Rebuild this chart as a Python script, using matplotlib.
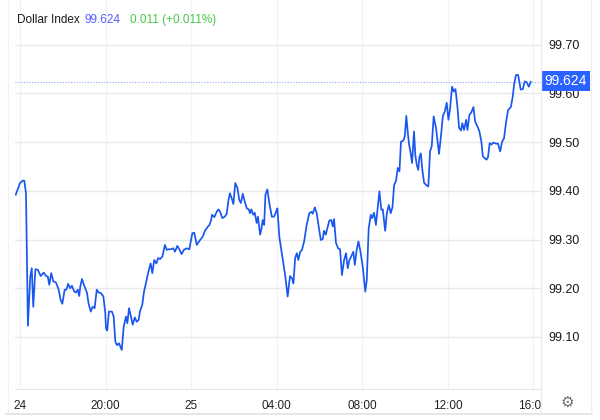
import numpy as np
import matplotlib.pyplot as plt
from matplotlib.patches import Rectangle
from matplotlib.lines import Line2D
from matplotlib.transforms import blended_transform_factory

plt.rcParams['font.family'] = ['Liberation Sans', 'DejaVu Sans']

# hours after 24th 16:00 and index value
hours = [-0.20, 0.00, 0.13, 0.20, 0.28, 0.37, 0.48, 0.55, 0.62, 0.72, 0.83, 0.97,
         1.11, 1.22, 1.30, 1.37, 1.46, 1.56, 1.68, 1.81, 1.90, 1.98, 2.09, 2.17,
         2.25, 2.34, 2.43, 2.53, 2.61, 2.70, 2.77, 2.82, 2.90, 2.99, 3.13, 3.21,
         3.31, 3.40, 3.49, 3.59, 3.68, 3.79, 3.90, 3.99, 4.02, 4.08, 4.16, 4.30,
         4.38, 4.46, 4.54, 4.63, 4.76, 4.85, 4.96, 5.02, 5.10, 5.19, 5.27, 5.37,
         5.46, 5.55, 5.61, 5.72, 5.80, 5.89, 5.99, 6.11, 6.19, 6.28, 6.38, 6.46,
         6.55, 6.66, 6.78, 6.86, 6.96, 7.06, 7.17, 7.25, 7.36, 7.45, 7.56, 7.67,
         7.80, 7.92, 8.06, 8.15, 8.27, 8.39, 8.55, 8.65, 8.76, 8.86, 8.94, 8.98,
         9.09, 9.20, 9.28, 9.36, 9.46, 9.58, 9.67, 9.75, 9.82, 9.90, 9.98, 10.07,
         10.17, 10.26, 10.33, 10.42, 10.51, 10.61, 10.70, 10.76, 10.82, 10.91, 10.98, 11.07,
         11.13, 11.23, 11.29, 11.35, 11.42, 11.48, 11.57, 11.66, 11.78, 11.88, 11.98, 12.04,
         12.13, 12.22, 12.32, 12.41, 12.52, 12.63, 12.73, 12.79, 12.87, 12.95, 13.02, 13.10,
         13.19, 13.29, 13.41, 13.53, 13.63, 13.69, 13.79, 13.88, 13.97, 14.07, 14.16, 14.22,
         14.30, 14.40, 14.47, 14.56, 14.63, 14.69, 14.78, 14.88, 14.97, 15.06, 15.16, 15.25,
         15.33, 15.41, 15.50, 15.59, 15.66, 15.75, 15.83, 15.91, 16.03, 16.15, 16.22, 16.31,
         16.41, 16.47, 16.56, 16.65, 16.81, 16.90, 16.97, 17.08, 17.16, 17.25, 17.34, 17.42,
         17.50, 17.59, 17.67, 17.75, 17.82, 17.93, 18.00, 18.07, 18.14, 18.20, 18.26, 18.34,
         18.43, 18.49, 18.56, 18.63, 18.68, 18.75, 18.82, 18.90, 18.99, 19.10, 19.18, 19.26,
         19.35, 19.46, 19.60, 19.68, 19.78, 19.87, 19.96, 20.04, 20.12, 20.21, 20.29, 20.37,
         20.46, 20.54, 20.63, 20.69, 20.77, 20.87, 20.93, 21.02, 21.11, 21.21, 21.29, 21.40,
         21.49, 21.58, 21.65, 21.74, 21.82, 21.89, 21.97, 22.05, 22.14, 22.26, 22.36, 22.46,
         22.55, 22.64, 22.74, 22.83, 22.96, 23.05, 23.11, 23.20, 23.30, 23.42, 23.52, 23.61,
         23.70, 23.80, 23.89]
index = [99.392, 99.416, 99.421, 99.421, 99.395, 99.123, 99.224, 99.241, 99.162, 99.239, 99.238, 99.225,
         99.232, 99.225, 99.224, 99.207, 99.231, 99.214, 99.212, 99.197, 99.176, 99.168, 99.197, 99.197,
         99.209, 99.200, 99.205, 99.194, 99.191, 99.197, 99.184, 99.203, 99.219, 99.207, 99.191, 99.168,
         99.152, 99.162, 99.159, 99.197, 99.191, 99.190, 99.183, 99.149, 99.118, 99.113, 99.152, 99.152,
         99.142, 99.090, 99.083, 99.087, 99.073, 99.121, 99.142, 99.128, 99.159, 99.142, 99.125, 99.140,
         99.131, 99.135, 99.152, 99.166, 99.193, 99.210, 99.231, 99.251, 99.231, 99.258, 99.251, 99.262,
         99.260, 99.265, 99.289, 99.279, 99.280, 99.280, 99.282, 99.275, 99.287, 99.280, 99.270, 99.279,
         99.282, 99.280, 99.313, 99.314, 99.289, 99.297, 99.306, 99.318, 99.325, 99.330, 99.340, 99.351,
         99.346, 99.357, 99.362, 99.357, 99.344, 99.347, 99.353, 99.381, 99.395, 99.385, 99.373, 99.416,
         99.406, 99.381, 99.375, 99.394, 99.378, 99.364, 99.362, 99.354, 99.362, 99.351, 99.355, 99.334,
         99.347, 99.310, 99.321, 99.340, 99.330, 99.392, 99.403, 99.375, 99.347, 99.347, 99.357, 99.364,
         99.306, 99.279, 99.251, 99.224, 99.183, 99.225, 99.220, 99.210, 99.262, 99.272, 99.258, 99.274,
         99.279, 99.296, 99.330, 99.354, 99.357, 99.353, 99.366, 99.354, 99.327, 99.299, 99.301, 99.318,
         99.310, 99.327, 99.339, 99.340, 99.327, 99.342, 99.293, 99.282, 99.280, 99.227, 99.258, 99.272,
         99.241, 99.258, 99.266, 99.275, 99.248, 99.279, 99.296, 99.279, 99.245, 99.193, 99.217, 99.323,
         99.351, 99.344, 99.355, 99.330, 99.399, 99.361, 99.362, 99.318, 99.354, 99.371, 99.354, 99.366,
         99.412, 99.421, 99.447, 99.440, 99.501, 99.503, 99.512, 99.554, 99.519, 99.495, 99.481, 99.457,
         99.522, 99.474, 99.453, 99.443, 99.469, 99.477, 99.443, 99.417, 99.412, 99.409, 99.481, 99.492,
         99.553, 99.529, 99.476, 99.508, 99.554, 99.563, 99.581, 99.546, 99.570, 99.614, 99.604, 99.609,
         99.573, 99.529, 99.524, 99.539, 99.525, 99.546, 99.525, 99.556, 99.561, 99.572, 99.542, 99.532,
         99.522, 99.501, 99.471, 99.467, 99.464, 99.469, 99.498, 99.495, 99.499, 99.497, 99.497, 99.481,
         99.501, 99.508, 99.542, 99.566, 99.572, 99.594, 99.618, 99.638, 99.638, 99.608, 99.609, 99.625,
         99.623, 99.614, 99.624]

tick_hours = [0, 4, 8, 12, 16, 20, 24]
tick_labels = ['24', '20:00', '25', '04:00', '08:00', '12:00', '16:00']
y_ticks = [99.10, 99.20, 99.30, 99.40, 99.50, 99.60, 99.70]
last = 99.624
change = 0.011
change_pct = 0.011

fig = plt.figure(figsize=(6, 4.2), dpi=100)
ax = fig.add_axes([15/600, 31/420, 526/600, 389/420])

ax.plot(hours, index, color='#1a56f0', lw=1.25, zorder=3)
ax.axhline(last, color='#8fa8ff', lw=0.8, ls=(0, (1, 1.5)), zorder=2)

ax.set_xlim(-0.234, 24.37)
ax.set_ylim(98.993, 99.792)
ax.set_xticks(tick_hours)
ax.set_xticklabels(tick_labels)
ax.set_yticks(y_ticks)
ax.set_yticklabels(['%.2f' % v for v in y_ticks])
ax.yaxis.tick_right()
ax.tick_params(axis='x', length=0, labelsize=8.5, colors='#222222', pad=8)
ax.tick_params(axis='y', length=0, labelsize=9, colors='#1a1a1a', pad=5)
ax.grid(axis='y', color='#e9e9ec', lw=1)
ax.grid(axis='x', color='#f1f3f8', lw=1)
for s in ['top', 'left', 'right']:
    ax.spines[s].set_visible(False)
ax.spines['bottom'].set_color('#e6e6e6')

# chart frame lines
fig.add_artist(Line2D([541/600, 541/600], [7/420, 1], color='#ebebeb', lw=1))
fig.add_artist(Line2D([8/600, 8/600], [7/420, 1], color='#f1f3f8', lw=1))
fig.add_artist(Line2D([591/600, 591/600], [7/420, 1], color='#f0f0f0', lw=1))
fig.add_artist(Line2D([6/600, 592/600], [6/420, 6/420], color='#e2e2e2', lw=1.2))

# hide the part of the last time label that runs past the plot
fig.add_artist(Rectangle((542/600, 8/420), 48/600, 22/420, transform=fig.transFigure,
                         facecolor='white', edgecolor='none', zorder=5))
fig.text(567/600, 18/420, '\u2699', fontsize=11, color='#707070', ha='center', va='center',
         family='DejaVu Sans', zorder=6)

# last price tag
tag = blended_transform_factory(fig.transFigure, ax.transData)
ax.add_patch(Rectangle((542/600, last - 0.018), 48/600, 0.040, transform=tag,
                       facecolor='#2962ff', edgecolor='none', clip_on=False, zorder=10))
ax.text(566/600, last + 0.001, '%.3f' % last, transform=tag, ha='center', va='center',
        fontsize=10, color='white', clip_on=False, zorder=11)

# header
fig.text(17/600, 1 - 20/420, 'Dollar Index', fontsize=8.5, color='#1a1a1a', va='center')
fig.text(84/600, 1 - 20/420, '%.3f' % last, fontsize=8.5, color='#5060ff', va='center')
fig.text(130/600, 1 - 20/420, '%.3f (+%.3f%%)' % (change, change_pct), fontsize=8.5,
         color='#45c945', va='center')

fig.savefig('out.png', dpi=100)
